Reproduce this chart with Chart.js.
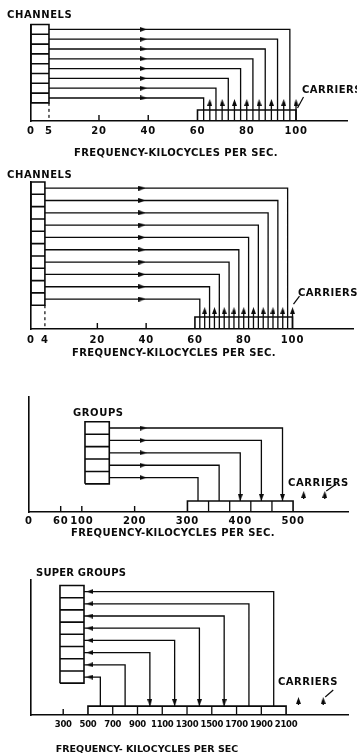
<!DOCTYPE html>
<html><head><meta charset="utf-8">
<script src="https://cdn.jsdelivr.net/npm/chart.js"></script>
<style>
html,body{margin:0;padding:0;background:#fff;}
body{width:357px;height:754px;position:relative;overflow:hidden;}
canvas{position:absolute;left:0;}
</style></head><body>
<canvas id="c1" width="357" height="165" style="top:0px"></canvas>
<canvas id="c2" width="357" height="200" style="top:165px"></canvas>
<canvas id="c3" width="357" height="180" style="top:365px"></canvas>
<canvas id="c4" width="357" height="209" style="top:545px"></canvas>
<script>
// ---------------- data ----------------
const p1Ticks = [0, 5, 20, 40, 60, 80, 100];
const p1ChannelTargets = [97.5, 92.5, 87.5, 82.5, 77.5, 72.5, 67.5, 62.5]; // top row first
const p1Carriers = [65, 70, 75, 80, 85, 90, 95, 100];
const p1Band = [60, 100];
const p1Baseband = 5;

const p2Ticks = [0, 4, 20, 40, 60, 80, 100];
const p2ChannelTargets = [98, 94, 90, 86, 82, 78, 74, 70, 66, 62];
const p2Carriers = [64, 68, 72, 76, 80, 84, 88, 92, 96, 100];
const p2Band = [60, 100];
const p2Baseband = 4;

const p3Ticks = [0, 60, 100, 200, 300, 400, 500];
const p3GroupTargets = [480, 440, 400, 360, 320];
const p3GroupArrow = [true, true, true, false, false];
const p3Band = [300, 340, 380, 420, 460, 500];
const p3Carriers = [520, 560];
const p3GroupBox = [106, 152];

const p4Ticks = [300, 500, 700, 900, 1100, 1300, 1500, 1700, 1900, 2100];
const p4SuperTargets = [2000, 1800, 1600, 1400, 1200, 1000, 800, 600];
const p4SuperArrow = [false, false, true, true, true, true, false, false];
const p4Band = [500, 700, 900, 1100, 1300, 1500, 1700, 1900, 2100];
const p4Carriers = [2200, 2400];
const p4SuperBox = [274, 468];

// ---------------- layout / style ----------------
const INK = '#0a0a0a';
const FONT = '"DejaVu Sans", sans-serif';
const HEAD_W = 5, HEAD_L = 7;

const PANELS = {
  c1: { top:0, h:165, left:31, right:347, plotTop:24.5, plotBottom:121,
    xmin:-7.6, xmax:120.7, warp:[[0,-7.6],[5,-0.3],[20,20]],
    ymin:-1.35, ymax:8.5, unit:9.8,
    ticks:p1Ticks, tickFont:10, tickPad:4, tickSpacing:0.8,
    box:[0,p1Baseband], targets:p1ChannelTargets, downArrows:null, lineToAxis:true,
    arrowAt:38, arrowRot:90, band:p1Band, bandTop:-0.22,
    carriers:p1Carriers, carrierBase:null, carrierTip:0.9, dashedAt:p1Baseband, tickMarkAbove:5,
    leader:[1.5,9,7.5,-2],
    texts:[{text:'CHANNELS',x:7,y:15,sp:0.6},{text:'CARRIERS',x:302,y:90,sp:0.5},
           {text:'FREQUENCY-KILOCYCLES PER SEC.',x:176,y:153,sp:0.4,align:'center'}]},
  c2: { top:165, h:200, left:31, right:356, plotTop:182, plotBottom:329,
    xmin:-7.2, xmax:124.8, warp:[[0,-7.2],[4,-1.5],[20,20]],
    ymin:-1.43, ymax:10.5, unit:12.32,
    ticks:p2Ticks, tickFont:10, tickPad:5, tickSpacing:0.8,
    box:[0,p2Baseband], targets:p2ChannelTargets, downArrows:null, lineToAxis:true,
    arrowAt:38.3, arrowRot:90, band:p2Band, bandTop:-0.46,
    carriers:p2Carriers, carrierBase:null, carrierTip:0.35, dashedAt:p2Baseband, tickMarkAbove:4,
    leader:[1,-3,7,-11],
    texts:[{text:'CHANNELS',x:7,y:175,sp:0.6},{text:'CARRIERS',x:298,y:293,sp:0.5},
           {text:'FREQUENCY-KILOCYCLES PER SEC.',x:174,y:353,sp:0.4,align:'center'}]},
  c3: { top:365, h:180, left:29, right:348, plotTop:397, plotBottom:512,
    xmin:0, xmax:604, warp:null,
    ymin:-1.77, ymax:7.5, unit:12.4,
    ticks:p3Ticks, tickFont:10, tickPad:3, tickSpacing:0.8,
    box:p3GroupBox, targets:p3GroupTargets, downArrows:p3GroupArrow, lineToAxis:false,
    arrowAt:216, arrowRot:90, band:p3Band, bandTop:-0.88,
    carriers:p3Carriers, carrierBase:-0.72, carrierTip:-0.07, dashedAt:null, tickMarkAbove:0,
    leader:[1.5,0,11.5,-7],
    texts:[{text:'GROUPS',x:73,y:413,sp:0.6},{text:'CARRIERS',x:288,y:483,sp:0.6},
           {text:'FREQUENCY-KILOCYCLES PER SEC.',x:173,y:533,sp:0.4,align:'center'}]},
  c4: { top:545, h:209, left:31, right:348, plotTop:580, plotBottom:715,
    xmin:40, xmax:2600, warp:null,
    ymin:-2.11, ymax:8.95, unit:12.2,
    ticks:p4Ticks, tickFont:8.5, tickPad:5, tickSpacing:-0.3,
    box:p4SuperBox, targets:p4SuperTargets, downArrows:p4SuperArrow, lineToAxis:false,
    arrowAt:516, arrowRot:-90, band:p4Band, bandTop:-1.38,
    carriers:p4Carriers, carrierBase:-1.3, carrierTip:-0.64, dashedAt:null, tickMarkAbove:40,
    leader:[2,0,10,-7],
    texts:[{text:'SUPER GROUPS',x:36,y:573,sp:0.2},{text:'CARRIERS',x:278,y:682,sp:0.5},
           {text:'FREQUENCY- KILOCYCLES PER SEC',x:147,y:750,sp:0,align:'center',size:9.5}]}
};

// arrowhead glyph (tip at top), rotated per dataset
function makeHead(){
  const c = document.createElement('canvas');
  c.width = HEAD_W; c.height = HEAD_L;
  const g = c.getContext('2d');
  g.fillStyle = INK;
  g.beginPath(); g.moveTo(HEAD_W/2, 0); g.lineTo(HEAD_W, HEAD_L); g.lineTo(0, HEAD_L); g.closePath(); g.fill();
  return c;
}
const HEAD = makeHead();

// linear scale with an expanded low-frequency segment (schematic axis)
class WarpScale extends Chart.LinearScale {
  static id = 'warp';
  static defaults = Chart.LinearScale.defaults;
  warpValue(v){
    const P = PANELS[this.chart.canvas.id];
    const k = P && P.warp;
    if (!k || v === null || v === undefined || isNaN(v)) return v;
    if (v <= k[0][0]) return k[0][1] + (v - k[0][0]);
    for (let i = 1; i < k.length; i++) {
      if (v <= k[i][0]) {
        const a = k[i-1], b = k[i];
        return a[1] + (v - a[0]) * (b[1] - a[1]) / (b[0] - a[0]);
      }
    }
    const l = k[k.length-1];
    return l[1] + (v - l[0]);
  }
  getPixelForValue(v){ return super.getPixelForValue(this.warpValue(v)); }
}
Chart.register(WarpScale);

const GAP = {x:null, y:null};
function seg(arr, pts){ if (arr.length) arr.push(GAP); arr.push(...pts); }

function datasets(P){
  const rows = P.targets.length;
  const thin = [], thick = [], dashed = [], marks = [];
  const hHeads = [], downHeads = [], upHeads = [];
  const [bx0, bx1] = P.box;
  // multiplexing box
  seg(thick, [{x:bx0,y:0.5},{x:bx1,y:0.5},{x:bx1,y:rows+0.5},{x:bx0,y:rows+0.5},{x:bx0,y:0.5}]);
  for (let k = 1; k < rows; k++) seg(thick, [{x:bx0,y:k+0.5},{x:bx1,y:k+0.5}]);
  // routing lines
  P.targets.forEach((t, i) => {
    const k = rows - i;
    const end = P.lineToAxis ? P.ymin : P.bandTop;
    seg(thin, [{x:bx1,y:k},{x:t,y:k},{x:t,y:end}]);
    hHeads.push({x:P.arrowAt, y:k});
    if (P.downArrows && P.downArrows[i]) downHeads.push({x:t, y:P.bandTop + HEAD_L/2/P.unit});
  });
  // frequency band
  const b0 = P.band[0], bN = P.band[P.band.length-1];
  seg(thick, [{x:b0,y:P.ymin},{x:b0,y:P.bandTop},{x:bN,y:P.bandTop},{x:bN,y:P.ymin}]);
  for (let i = 1; i < P.band.length-1; i++) seg(thin, [{x:P.band[i],y:P.ymin},{x:P.band[i],y:P.bandTop}]);
  // carriers
  P.carriers.forEach(c => {
    const base = P.carrierBase === null ? P.ymin : P.carrierBase;
    seg(thin, [{x:c,y:base},{x:c,y:P.carrierTip - HEAD_L/2/P.unit}]);
    upHeads.push({x:c, y:P.carrierTip - HEAD_L/2/P.unit});
  });
  // dashed baseband limit
  if (P.dashedAt !== null) seg(dashed, [{x:P.dashedAt,y:0.5},{x:P.dashedAt,y:P.ymin}]);
  // tick marks not covered by the band
  P.ticks.filter(v => v > P.tickMarkAbove && v < b0).forEach(v => seg(marks, [{x:v,y:P.ymin},{x:v,y:P.ymin + 6/P.unit}]));

  const line = (data, w, extra) => Object.assign({type:'scatter', data, showLine:true, borderColor:INK, borderWidth:w,
    pointRadius:0, pointHoverRadius:0, clip:false, spanGaps:false}, extra||{});
  const pts = (data, rot) => ({type:'scatter', data, showLine:false, pointStyle:HEAD, rotation:rot,
    pointRadius:3, pointHoverRadius:3, clip:false});
  return [
    line(thin, 1.3), line(thick, 1.6), line(dashed, 1.2, {borderDash:[3,3]}), line(marks, 1.4),
    pts(hHeads, P.arrowRot), pts(downHeads, 180), pts(upHeads, 0)
  ];
}

const annot = {
  id:'annot',
  beforeDraw(chart){
    const P = PANELS[chart.canvas.id];
    chart.ctx.letterSpacing = P.tickSpacing + 'px';
  },
  afterDraw(chart){
    const P = PANELS[chart.canvas.id];
    const ctx = chart.ctx;
    ctx.save();
    ctx.fillStyle = INK; ctx.strokeStyle = INK;
    ctx.textBaseline = 'middle';
    P.texts.forEach(t => {
      ctx.font = 'bold ' + (t.size || 10) + 'px ' + FONT;
      ctx.letterSpacing = (t.sp || 0) + 'px';
      ctx.textAlign = t.align || 'left';
      ctx.fillText(t.text, t.x, t.y - P.top);
    });
    // leader from "CARRIERS" to the last carrier
    const xs = chart.scales.x, ys = chart.scales.y;
    const cx = xs.getPixelForValue(P.carriers[P.carriers.length-1]);
    const cy = ys.getPixelForValue(P.carrierTip);
    const L = P.leader;
    ctx.lineWidth = 1.2;
    ctx.beginPath(); ctx.moveTo(cx + L[0], cy + L[1]); ctx.lineTo(cx + L[2], cy + L[3]); ctx.stroke();
    ctx.restore();
    ctx.letterSpacing = '0px';
  }
};

Object.keys(PANELS).forEach(id => {
  const P = PANELS[id];
  new Chart(document.getElementById(id), {
    data: { datasets: datasets(P) },
    options: {
      responsive:false, animation:false, devicePixelRatio:1, events:[],
      layout:{ padding:{ top:P.plotTop - P.top, right:357 - P.right, left:0, bottom:0 } },
      plugins:{ legend:{display:false}, tooltip:{enabled:false}, title:{display:false} },
      scales:{
        x:{ type:'warp', min:P.xmin, max:P.xmax, bounds:'data',
          afterBuildTicks: s => { s.ticks = P.ticks.map(v => ({value:v})); },
          ticks:{ autoSkip:false, maxRotation:0, minRotation:0, padding:P.tickPad, color:INK,
                  font:{family:FONT, size:P.tickFont, weight:'bold'}, callback:(v) => String(v) },
          grid:{ display:false, drawTicks:false },
          border:{ display:true, color:INK, width:1.6 },
          afterFit: s => { s.height = P.h - (P.plotBottom - P.top); } },
        y:{ type:'linear', min:P.ymin, max:P.ymax,
          ticks:{ display:false }, grid:{ display:false, drawTicks:false },
          border:{ display:true, color:INK, width:1.6 },
          afterFit: s => { s.width = P.left; } }
      }
    },
    plugins:[annot]
  });
});
</script>
</body></html>
